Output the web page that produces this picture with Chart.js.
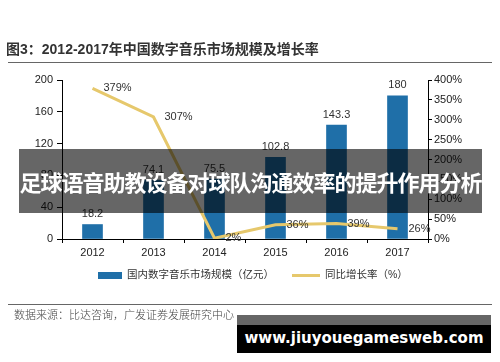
<!DOCTYPE html>
<html>
<head>
<meta charset="utf-8">
<script src="https://cdn.jsdelivr.net/npm/chart.js@4"></script>
<style>
  body { margin: 0; background: #fff; }
  #wrap { position: relative; width: 500px; height: 362px; overflow: hidden; font-family: "Liberation Sans", "Noto Sans CJK SC", sans-serif; }
  #graph { position: absolute; left: 0; top: 0; }
  .title { position: absolute; left: 6px; top: 38px; font-size: 14px; font-weight: bold; color: #333; white-space: nowrap; }
  .rule { position: absolute; left: 8px; width: 484px; height: 1px; background: #666; }
  .legend { position: absolute; top: 266px; font-size: 10.5px; color: #333; white-space: nowrap; }
  .source { position: absolute; left: 14px; top: 306px; font-size: 11px; color: #444; white-space: nowrap; font-family: "Noto Sans CJK SC", sans-serif; font-weight: 300; }
  .banner { position: absolute; left: 19px; top: 149px; width: 463px; height: 64px; background: rgba(0,0,0,0.6); color: #fff; font-family: "Noto Sans CJK SC", sans-serif; font-weight: bold; font-size: 22px; letter-spacing: -1px; line-height: 64px; text-align: center; white-space: nowrap; }
  .wm-top { position: absolute; left: 237px; top: 315px; width: 254px; height: 10px; background: #666; }
  .wm { position: absolute; left: 237px; top: 325px; width: 254px; height: 28px; background: #000; color: #fff; font-family: "DejaVu Sans", sans-serif; font-weight: bold; font-size: 15px; line-height: 26px; text-align: center; white-space: nowrap; }
</style>
</head>
<body>
<div id="wrap">
  <canvas id="graph" width="500" height="362"></canvas>
  <div class="title">图3：2012-2017年中国数字音乐市场规模及增长率</div>
  <div class="rule" style="top:62px"></div>
  <div class="legend" style="left:98px"><span style="display:inline-block;width:24px;height:7px;background:#1f6fa8;vertical-align:middle;margin-right:5px"></span>国内数字音乐市场规模（亿元）</div>
  <div class="legend" style="left:292px"><span style="display:inline-block;width:28px;height:3px;background:#e6c86c;vertical-align:middle;margin-right:5px"></span>同比增长率（%）</div>
  <div class="rule" style="top:304px"></div>
  <div class="source">数据来源：比达咨询，广发证券发展研究中心</div>
  <div class="banner">足球语音助教设备对球队沟通效率的提升作用分析</div>
  <div class="wm-top"></div>
  <div class="wm">www.jiuyouegamesweb.com</div>
</div>
<script>
const years = ["2012", "2013", "2014", "2015", "2016", "2017"];
const marketSize = [18.2, 74.1, 75.5, 102.8, 143.3, 180];
const growthRate = [379, 307, 2, 36, 39, 26];

const ctx = document.getElementById("graph").getContext("2d");

const valueLabels = {
  id: "valueLabels",
  afterDatasetsDraw(chart) {
    const c = chart.ctx;
    c.save();
    c.font = "11px 'Liberation Sans', sans-serif";
    c.fillStyle = "#333";
    chart.getDatasetMeta(0).data.forEach((bar, i) => {
      c.textAlign = "center";
      c.textBaseline = "bottom";
      c.fillText(marketSize[i], bar.x, bar.y - 5);
    });
    chart.getDatasetMeta(1).data.forEach((pt, i) => {
      c.textAlign = "left";
      c.textBaseline = "middle";
      c.fillText(growthRate[i] + "%", pt.x + 11, pt.y);
    });
    c.restore();
  },
};

const axisFont = { family: "'Liberation Sans', sans-serif", size: 11 };

new Chart(ctx, {
  type: "bar",
  data: {
    labels: years,
    datasets: [
      {
        label: "国内数字音乐市场规模（亿元）",
        data: marketSize,
        backgroundColor: "#1f6fa8",
        barThickness: 20,
        yAxisID: "y",
        order: 2,
      },
      {
        type: "line",
        label: "同比增长率（%）",
        data: growthRate,
        borderColor: "#e6c86c",
        borderWidth: 3,
        pointRadius: 0,
        tension: 0,
        yAxisID: "y1",
        order: 1,
      },
    ],
  },
  options: {
    responsive: false,
    animation: false,
    layout: { padding: { top: 80, left: 0, right: 0, bottom: 0 } },
    plugins: { legend: { display: false }, tooltip: { enabled: false } },
    scales: {
      x: {
        grid: { drawOnChartArea: false, drawTicks: true, tickLength: 4, color: "#000" },
        border: { color: "#000" },
        ticks: { font: axisFont, color: "#222", padding: 3 },
        afterFit: (s) => { s.height = 123; },
      },
      y: {
        min: 0,
        max: 200,
        ticks: { stepSize: 40, font: axisFont, color: "#222", padding: 4 },
        grid: { drawOnChartArea: false, drawTicks: true, tickLength: 5, color: "#000" },
        border: { color: "#000" },
        afterFit: (s) => { s.width = 62; },
      },
      y1: {
        position: "right",
        min: 0,
        max: 400,
        ticks: { stepSize: 50, font: axisFont, color: "#222", padding: 2, callback: (v) => v + "%" },
        grid: { drawOnChartArea: false, drawTicks: true, tickLength: 4, color: "#000" },
        border: { color: "#000" },
        afterFit: (s) => { s.width = 72; },
      },
    },
  },
  plugins: [valueLabels],
});
</script>
</body>
</html>
